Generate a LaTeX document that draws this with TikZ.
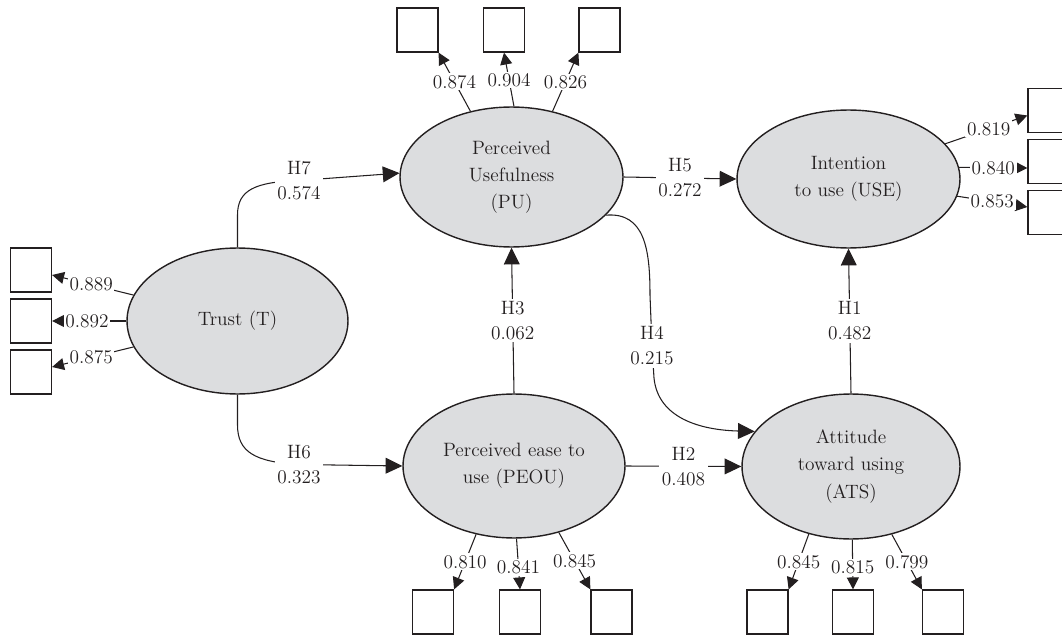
\documentclass[tikz,border=0pt]{standalone}
\usetikzlibrary{shapes.geometric,arrows.meta}
\definecolor{ink}{RGB}{35,31,32}
\definecolor{ellfill}{RGB}{220,221,223}
\begin{document}
\begin{tikzpicture}[x=0.02cm,y=-0.02cm,
  lv/.style={ellipse, draw=ink, line width=0.8pt, fill=ellfill, inner sep=0pt,
    align=center, text=ink, font=\fontsize{11}{15.5}\selectfont},
  ind/.style={draw=ink, line width=0.7pt, fill=white, minimum width=0.82cm,
    minimum height=0.88cm, inner sep=0pt},
  struct/.style={draw=ink, line width=0.6pt, -{Triangle[length=9.5pt,width=9pt]}},
  loadarr/.style={draw=ink, line width=0.6pt, -{Triangle[length=6.8pt,width=6.8pt]}},
  hl/.style={fill=white, inner sep=1.5pt, align=center, text=ink,
    font=\fontsize{11}{14.2}\selectfont},
  ll/.style={fill=white, inner sep=1pt, text=ink, font=\fontsize{11}{13}\selectfont}]
\useasboundingbox (0,0) rectangle (1062,635);
\clip (0,0) rectangle (1062,635);

% latent variables
\node[lv, minimum width=4.42cm, minimum height=2.92cm] (T) at (237.5,321) {Trust (T)};
\node[lv, minimum width=4.46cm, minimum height=2.80cm] (PU) at (511.5,177) {Perceived\\Usefulness\\(PU)};
\node[lv, minimum width=4.46cm, minimum height=2.76cm] (USE) at (848.5,179) {Intention\\to use (USE)};
\node[lv, minimum width=4.44cm, minimum height=2.88cm] (PEOU) at (514,466) {Perceived ease to\\use (PEOU)};
\node[lv, minimum width=4.36cm, minimum height=2.90cm] (ATS) at (851,466.5) {Attitude\\toward using\\(ATS)};

% indicator boxes
\node[ind] (P1) at (417.5,30) {};
\node[ind] (P2) at (504,30) {};
\node[ind] (P3) at (599.5,30) {};
\node[ind] (U1) at (1048.5,110.5) {};
\node[ind] (U2) at (1048.5,161.5) {};
\node[ind] (U3) at (1048.5,212.5) {};
\node[ind] (L1) at (31,270) {};
\node[ind] (L2) at (31,321) {};
\node[ind] (L3) at (31,372) {};
\node[ind] (B1) at (433,612) {};
\node[ind] (B2) at (520,612) {};
\node[ind] (B3) at (611.5,612) {};
\node[ind] (A1) at (767.5,612) {};
\node[ind] (A2) at (853,612) {};
\node[ind] (A3) at (943,612) {};

% loadings
\draw[loadarr] (PU.122) -- node[ll,pos=0.5]{0.874} (P1.south east);
\draw[loadarr] (PU.88) -- node[ll,pos=0.49]{0.904} (P2.south);
\draw[loadarr] (PU.58) -- node[ll,pos=0.5]{0.826} (P3.south west);

\draw[loadarr] (USE.20) -- node[ll,pos=0.53]{0.819} ([yshift=-0.1cm]U1.west);
\draw[loadarr] (USE.6) -- node[ll,pos=0.5]{0.840} ([yshift=-0.13cm]U2.west);
\draw[loadarr] (USE.-9) -- node[ll,pos=0.5]{0.853} ([yshift=0.11cm]U3.west);

\draw[loadarr] (T.166) -- node[ll,pos=0.52]{0.889} ([yshift=-0.1cm]L1.east);
\draw[loadarr] (T.180) -- node[ll,pos=0.53]{0.892} (L2.east);
\draw[loadarr] (T.194) -- node[ll,pos=0.52]{0.875} ([yshift=0.1cm]L3.east);

\draw[loadarr] (PEOU.241) -- node[ll,pos=0.5]{0.810} (B1.north east);
\draw[loadarr] (PEOU.272) -- node[ll,pos=0.56]{0.841} (B2.north);
\draw[loadarr] (PEOU.304) -- node[ll,pos=0.5]{0.845} (B3.north west);

\draw[loadarr] (ATS.238) -- node[ll,pos=0.5]{0.845} (A1.north east);
\draw[loadarr] (ATS.271) -- node[ll,pos=0.56]{0.815} (A2.north);
\draw[loadarr] (ATS.301.5) -- node[ll,pos=0.5]{0.799} (A3.north west);

% structural paths
\draw[struct] (T.north) -- (237.5,215) .. controls (237.5,190) and (255,182) .. (299,180.5)
  node[hl]{H7\\0.574} -- (PU.178);
\draw[struct] (T.south) -- (237.5,425) .. controls (237.5,452) and (255,462) .. (299,464.5)
  node[hl]{H6\\0.323} -- (PEOU.west);
\draw[struct] (PU.east) -- node[hl]{H5\\0.272} (USE.west);
\draw[struct] (PEOU.east) -- node[hl]{H2\\0.408} (ATS.west);
\draw[struct] (PEOU.north) -- node[hl]{H3\\0.062} (PU.south);
\draw[struct] (ATS.north) -- node[hl]{H1\\0.482} (USE.south);
\draw[struct] (PU.-22) .. controls (645,212) and (650,250) .. (650,295) -- (652,346)
  node[hl]{H4\\0.215} -- (654,378) .. controls (658,418) and (700,430) .. (ATS.160);
\end{tikzpicture}
\end{document}
